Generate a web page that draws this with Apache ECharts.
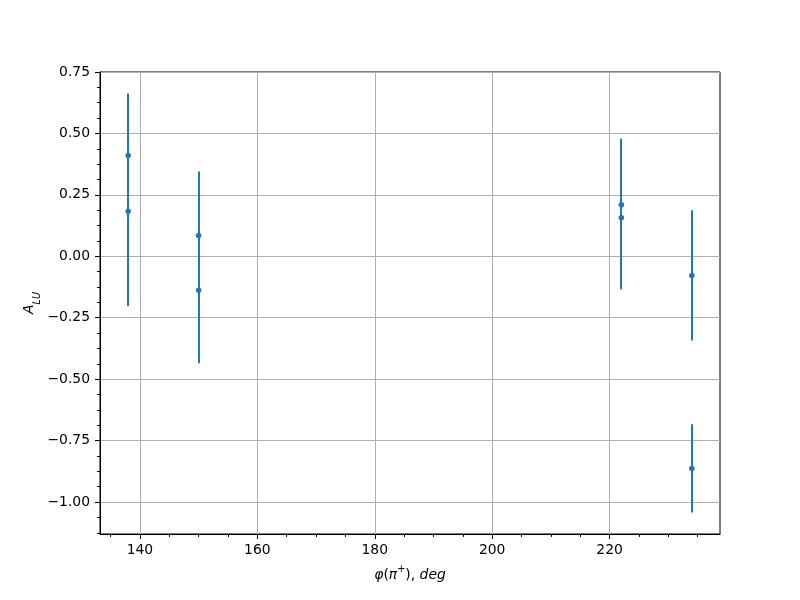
<!DOCTYPE html>
<html><head><meta charset="utf-8">
<script src="https://cdn.jsdelivr.net/npm/echarts@6/dist/echarts.min.js"></script>
<style>html,body{margin:0;padding:0;background:#fff}#c{width:800px;height:600px}</style>
</head><body><div id="c"></div>
<script>
// Data
const xValues   = [138, 138, 150, 150, 222, 222, 234, 234];
const yValues   = [0.410, 0.183, 0.085, -0.138, 0.210, 0.157, -0.078, -0.863];
const errValues = [0.253, 0.386, 0.260, 0.297, 0.268, 0.291, 0.265, 0.180];

// Tick values / labels
const xMajorTicks = [140, 160, 180, 200, 220];
const xMinorTicks = [135, 145, 150, 155, 165, 170, 175, 185, 190, 195, 205, 210, 215, 225, 230, 235];
const yMajorTicks = [-1.00, -0.75, -0.50, -0.25, 0.00, 0.25, 0.50, 0.75];
const yMinorTicks = [-1.125, -1.0625, -0.9375, -0.875, -0.8125, -0.6875, -0.625, -0.5625,
  -0.4375, -0.375, -0.3125, -0.1875, -0.125, -0.0625, 0.0625, 0.125, 0.1875,
  0.3125, 0.375, 0.4375, 0.5625, 0.625, 0.6875];

const X_MIN = 133.2, X_MAX = 238.8, Y_MIN = -1.13, Y_MAX = 0.75;
const C0 = '#1f77b4';
const FONT = 'DejaVu Sans';

const chart = echarts.init(document.getElementById('c'), null, {renderer: 'canvas'});

const fmtY = v => { const s = Math.abs(v) < 1e-9 ? '0.00' : v.toFixed(2); return s.replace('-', '\u2212'); };

const errData = xValues.map((x, i) => [x, yValues[i] - errValues[i], yValues[i] + errValues[i]]);
const ptData = xValues.map((x, i) => [x, yValues[i]]);

const majorAxisCommon = {
  axisLine: {show: true, onZero: false, lineStyle: {color: '#000', width: 1}},
  splitLine: {show: true, lineStyle: {color: '#b0b0b0', width: 1}},
};

const option = {
  animation: false,
  backgroundColor: '#fff',
  grid: {left: 100, right: 80, top: 72, bottom: 66, show: true, borderColor: '#000', borderWidth: 1, containLabel: false},
  xAxis: [
    Object.assign({
      type: 'value', min: X_MIN, max: X_MAX, position: 'bottom',
      axisTick: {show: true, inside: false, length: 5, customValues: xMajorTicks, lineStyle: {color: '#000', width: 1}},
      axisLabel: {show: true, margin: 9, customValues: xMajorTicks, color: '#000', fontFamily: FONT, fontSize: 13.9,
        formatter: v => String(Math.round(v))}
    }, majorAxisCommon),
    {
      type: 'value', min: X_MIN, max: X_MAX, position: 'bottom', offset: 0,
      axisLine: {show: false, onZero: false},
      axisTick: {show: true, inside: false, length: 3, customValues: xMinorTicks, lineStyle: {color: '#000', width: 1}},
      axisLabel: {show: false},
      splitLine: {show: false}
    }
  ],
  yAxis: [
    Object.assign({
      type: 'value', min: Y_MIN, max: Y_MAX, position: 'left',
      axisTick: {show: true, inside: false, length: 5, customValues: yMajorTicks, lineStyle: {color: '#000', width: 1}},
      axisLabel: {show: true, margin: 10, customValues: yMajorTicks, color: '#000', fontFamily: FONT, fontSize: 13.9,
        formatter: fmtY}
    }, majorAxisCommon),
    {
      type: 'value', min: Y_MIN, max: Y_MAX, position: 'left', offset: 0,
      axisLine: {show: false, onZero: false},
      axisTick: {show: true, inside: false, length: 3, customValues: yMinorTicks, lineStyle: {color: '#000', width: 1}},
      axisLabel: {show: false},
      splitLine: {show: false}
    }
  ],
  series: [
    {
      type: 'custom', xAxisIndex: 0, yAxisIndex: 0, data: errData, z: 3,
      encode: {x: 0, y: [1, 2]},
      renderItem: function (params, api) {
        const p1 = api.coord([api.value(0), api.value(1)]);
        const p2 = api.coord([api.value(0), api.value(2)]);
        const px = Math.round(p1[0]);
        return {type: 'line', shape: {x1: px, y1: p1[1], x2: px, y2: p2[1]},
          style: {stroke: C0, lineWidth: 2}};
      }
    },
    {
      type: 'scatter', xAxisIndex: 0, yAxisIndex: 0, data: ptData, z: 4,
      symbol: 'circle', symbolSize: 5.5, itemStyle: {color: C0, opacity: 1}
    }
  ],
  graphic: [
    {
      type: 'text', x: 410, y: 573,
      style: {
        text: '{i|\u03c6}{n|(}{i|\u03c0}{s|+}{n|),}{i| deg}',
        align: 'center', verticalAlign: 'middle', fill: '#000',
        rich: {
          i: {fontFamily: FONT, fontSize: 13.9, fontStyle: 'italic', lineHeight: 18, verticalAlign: 'bottom', fill: '#000'},
          n: {fontFamily: FONT, fontSize: 13.9, lineHeight: 18, verticalAlign: 'bottom', fill: '#000'},
          s: {fontFamily: FONT, fontSize: 9.7, lineHeight: 18, verticalAlign: 'top', fill: '#000'}
        }
      }
    },
    {
      type: 'text', x: 32, y: 303, rotation: Math.PI / 2,
      style: {
        text: '{a|A}{s|LU}',
        align: 'center', verticalAlign: 'middle', fill: '#000',
        rich: {
          a: {fontFamily: FONT, fontSize: 13.9, fontStyle: 'italic', lineHeight: 20, verticalAlign: 'top', fill: '#000'},
          s: {fontFamily: FONT, fontSize: 9.7, fontStyle: 'italic', lineHeight: 20, verticalAlign: 'bottom', fill: '#000'}
        }
      }
    }
  ]
};
chart.setOption(option);
</script>
</body></html>
